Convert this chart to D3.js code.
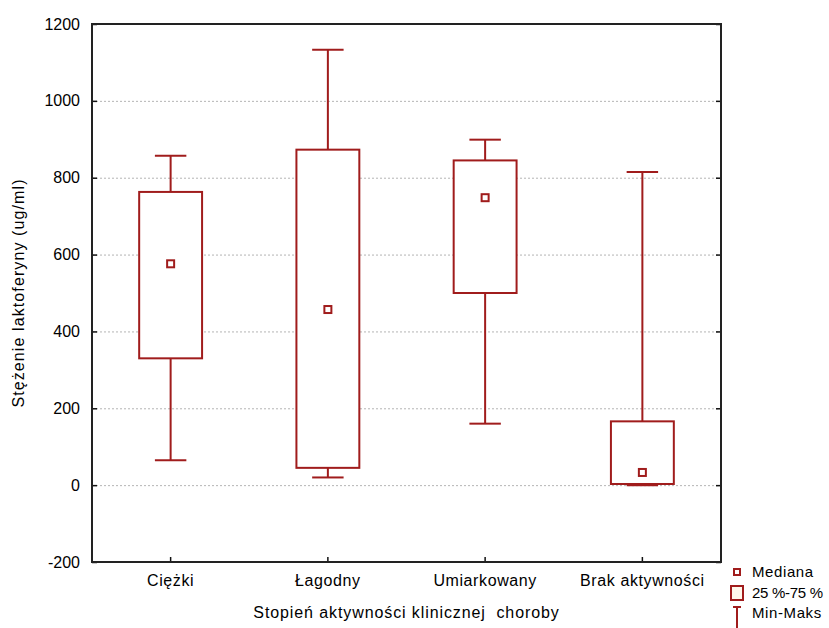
<!DOCTYPE html>
<html>
<head>
<meta charset="utf-8">
<script src="https://cdn.jsdelivr.net/npm/d3@7"></script>
<style>
  body { margin: 0; background: #fff; }
  text { font-family: "Liberation Sans", Arial, sans-serif; fill: #000; }
</style>
</head>
<body>
<svg id="chart" width="829" height="628"></svg>
<script>
// Lactoferrin concentration by clinical activity grade: min, quartiles, median, max
const categories = ["Ciężki", "Łagodny", "Umiarkowany", "Brak aktywności"];
const minValues = [65, 20, 160, 0];
const q1Values = [330, 45, 500, 3];
const medianValues = [576, 457, 748, 33];
const q3Values = [763, 873, 845, 166];
const maxValues = [857, 1133, 899, 815];
const yTicks = [-200, 0, 200, 400, 600, 800, 1000, 1200];
const gridValues = [0, 200, 400, 600, 800, 1000];
const legendLabels = ["Mediana", "25 %-75 %", "Min-Maks"];

const rows = categories.map((c, i) => ({
  cat: c, min: minValues[i], q1: q1Values[i], med: medianValues[i], q3: q3Values[i], max: maxValues[i]
}));

const W = 829, H = 628;
const margin = { top: 24, right: 108, bottom: 66, left: 92 };
const red = "#a01c1c";
const fontSize = 16;
const fontFamily = "Liberation Sans, Arial, sans-serif";

const svg = d3.select("#chart");

const x = d3.scaleBand().domain(categories).range([margin.left, W - margin.right]).padding(0);
const y = d3.scaleLinear().domain([-200, 1200]).range([H - margin.bottom, margin.top]);

// dotted horizontal grid
svg.append("g").selectAll("line").data(gridValues).join("line")
  .attr("x1", margin.left).attr("x2", W - margin.right)
  .attr("y1", d => y(d) + 0.5).attr("y2", d => y(d) + 0.5)
  .attr("stroke", "#b4b4b4").attr("stroke-width", 1).attr("stroke-dasharray", "2,2");

// left axis with inward ticks, plain integer labels with ASCII minus
const yAxis = svg.append("g").attr("transform", `translate(${margin.left},0)`)
  .call(d3.axisLeft(y).tickValues(yTicks).tickSizeInner(-5).tickSizeOuter(0).tickPadding(12)
    .tickFormat(d => String(d)));
yAxis.select(".domain").remove();
yAxis.selectAll("line").attr("stroke", "#111").attr("stroke-width", 1.5);
yAxis.selectAll("text").attr("font-size", fontSize).attr("font-family", fontFamily).attr("fill", "#000");

// right axis (ticks only)
const yAxisR = svg.append("g").attr("transform", `translate(${W - margin.right},0)`)
  .call(d3.axisRight(y).tickValues(yTicks).tickSizeInner(-5).tickSizeOuter(0).tickFormat(""));
yAxisR.select(".domain").remove();
yAxisR.selectAll("line").attr("stroke", "#111").attr("stroke-width", 1.5);

// bottom axis with inward ticks at category centres
const xAxis = svg.append("g").attr("transform", `translate(0,${H - margin.bottom})`)
  .call(d3.axisBottom(x).tickSizeInner(-5).tickSizeOuter(0).tickPadding(13));
xAxis.select(".domain").remove();
xAxis.selectAll("line").attr("stroke", "#111").attr("stroke-width", 1.5);
xAxis.selectAll("text").attr("font-size", fontSize).attr("letter-spacing", 0.6)
  .attr("font-family", fontFamily).attr("fill", "#000");

// frame
svg.append("rect")
  .attr("x", margin.left).attr("y", margin.top)
  .attr("width", W - margin.left - margin.right).attr("height", H - margin.top - margin.bottom)
  .attr("fill", "none").attr("stroke", "#222").attr("stroke-width", 2);

// box plots
const boxW = x.bandwidth() * 0.4;
const capW = boxW * 0.5;
const g = svg.append("g").selectAll("g").data(rows).join("g")
  .attr("transform", d => `translate(${x(d.cat) + x.bandwidth() / 2},0)`);

g.append("line").attr("x1", 0).attr("x2", 0)
  .attr("y1", d => y(d.max)).attr("y2", d => y(d.min))
  .attr("stroke", red).attr("stroke-width", 2);
g.append("line").attr("x1", -capW / 2).attr("x2", capW / 2)
  .attr("y1", d => y(d.max)).attr("y2", d => y(d.max))
  .attr("stroke", red).attr("stroke-width", 2);
g.append("line").attr("x1", -capW / 2).attr("x2", capW / 2)
  .attr("y1", d => y(d.min)).attr("y2", d => y(d.min))
  .attr("stroke", red).attr("stroke-width", 2);
g.append("rect")
  .attr("x", -boxW / 2).attr("width", boxW)
  .attr("y", d => y(d.q3)).attr("height", d => y(d.q1) - y(d.q3))
  .attr("fill", "#fff").attr("stroke", red).attr("stroke-width", 2);
g.append("rect")
  .attr("x", -3.5).attr("width", 7)
  .attr("y", d => y(d.med) - 3.5).attr("height", 7)
  .attr("fill", "#fff").attr("stroke", red).attr("stroke-width", 2);

// axis titles
svg.append("text")
  .attr("x", (margin.left + W - margin.right) / 2).attr("y", 618)
  .attr("text-anchor", "middle").attr("font-size", fontSize).attr("letter-spacing", 0.9)
  .style("white-space", "pre")
  .text("Stopień aktywności klinicznej  choroby");
svg.append("text")
  .attr("transform", `translate(18,${(margin.top + H - margin.bottom) / 2}) rotate(-90)`)
  .attr("dy", "0.35em").attr("text-anchor", "middle").attr("font-size", fontSize).attr("letter-spacing", 1.1)
  .text("Stężenie laktoferyny (ug/ml)");

// legend
const lg = svg.append("g");
const lx = 737, textX = 752;
const ly = [572, 593, 613];
lg.append("rect").attr("x", lx - 3).attr("y", ly[0] - 3).attr("width", 6).attr("height", 6)
  .attr("fill", "#fff").attr("stroke", red).attr("stroke-width", 2);
lg.append("rect").attr("x", lx - 6).attr("y", ly[1] - 7).attr("width", 12).attr("height", 14)
  .attr("fill", "#fff8ec").attr("stroke", red).attr("stroke-width", 2);
lg.append("line").attr("x1", lx - 4).attr("x2", lx + 4).attr("y1", ly[2] - 6).attr("y2", ly[2] - 6)
  .attr("stroke", red).attr("stroke-width", 2);
lg.append("line").attr("x1", lx).attr("x2", lx).attr("y1", ly[2] - 6).attr("y2", H)
  .attr("stroke", red).attr("stroke-width", 2);
lg.selectAll("text").data(legendLabels).join("text")
  .attr("x", textX).attr("y", (d, i) => ly[i]).attr("dy", "0.35em")
  .attr("font-size", 15).attr("letter-spacing", (d, i) => i === 1 ? -0.3 : 0.6)
  .text(d => d);
</script>
</body>
</html>
